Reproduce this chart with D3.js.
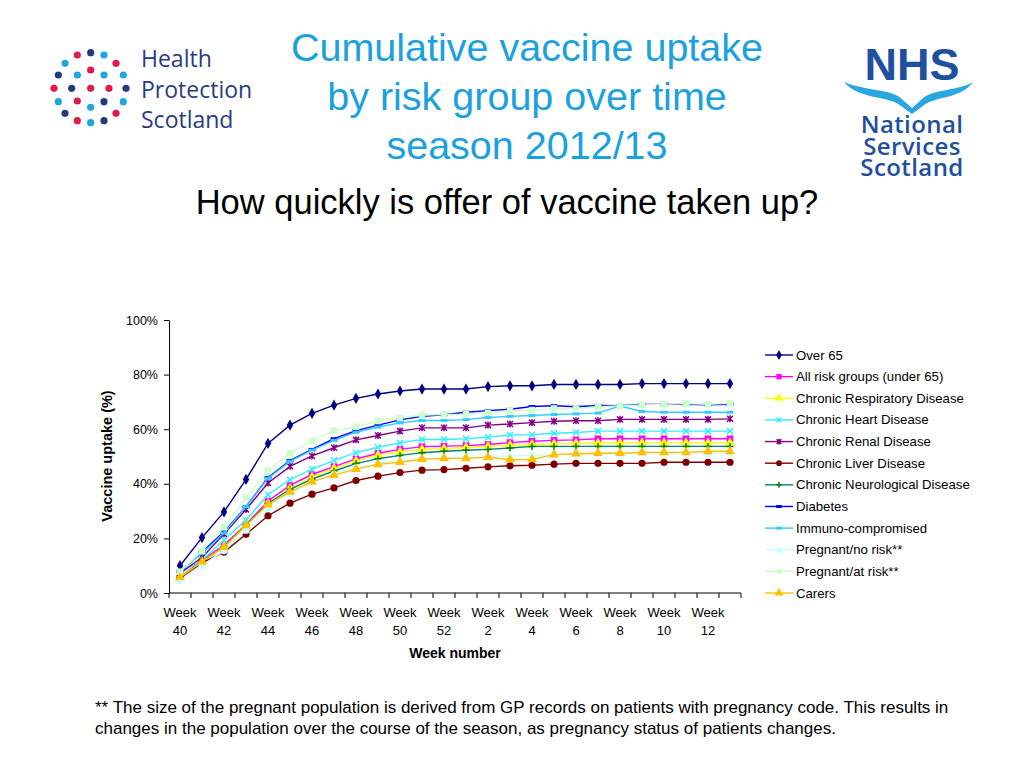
<!DOCTYPE html>
<html><head><meta charset="utf-8">
<script src="https://cdn.jsdelivr.net/npm/d3@7"></script>
<style>
html,body{margin:0;padding:0;background:#fff;}
svg{display:block;font-family:"Liberation Sans",Arial,sans-serif;}
</style></head>
<body>
<svg id="c" width="1024" height="768"></svg>
<script>
// ---- data ----
const weeks = [40,41,42,43,44,45,46,47,48,49,50,51,52,1,2,3,4,5,6,7,8,9,10,11,12,13];
const seriesNames = ["Over 65","All risk groups (under 65)","Chronic Respiratory Disease","Chronic Heart Disease","Chronic Renal Disease","Chronic Liver Disease","Chronic Neurological Disease","Diabetes","Immuno-compromised","Pregnant/no risk**","Pregnant/at risk**","Carers"];
const over65 = [10.0,20.3,29.7,41.6,54.8,61.5,65.8,68.8,71.3,72.9,74.0,74.7,74.7, 74.7,75.6,75.9,75.9,76.4,76.4,76.4,76.4,76.7,76.7,76.7,76.7,76.7];
const allRisk = [5.7,12.0,17.6,25.1,33.7,39.4,43.4,46.3,49.1,51.2,52.6,53.6,53.8, 54.0,54.4,55.1,55.6,55.9,56.1,56.5,56.5,56.5,56.5,56.5,56.5,56.5];
const respiratory = [5.4,11.4,17.0,24.5,32.8,38.3,42.4,45.6,48.4,50.5,51.7,52.6,52.9, 53.3,53.7,54.1,54.4,54.6,54.8,54.9,55.0,55.0,55.0,55.0,55.0,55.0];
const heart = [7.3,12.0,19.4,26.7,36.0,41.5,45.4,48.6,51.4,53.4,55.0,56.2,56.2, 56.5,57.1,57.9,58.0,58.5,58.8,59.3,59.3,59.3,59.3,59.3,59.3,59.3];
const renal = [7.3,13.0,21.6,30.6,40.3,46.4,50.2,53.2,56.1,57.7,59.3,60.5,60.5, 60.5,61.5,61.9,62.4,62.9,63.1,63.1,63.6,63.6,63.6,63.6,63.6,63.8];
const liver = [5.4,11.0,15.0,21.5,28.3,32.9,36.2,38.5,41.2,42.8,44.1,45.0,45.2, 45.7,46.2,46.6,46.8,47.2,47.5,47.5,47.5,47.5,47.9,47.9,47.9,47.9];
const neuro = [5.7,11.5,17.0,24.9,32.8,38.0,41.7,44.7,47.4,49.2,50.4,51.4,51.9, 52.3,52.6,53.1,53.7,53.7,53.7,53.7,53.7,53.7,53.7,53.7,53.7,53.7];
const diabetes = [7.8,15.0,22.4,31.6,42.3,48.5,52.6,56.5,59.5,61.5,63.4,64.7,65.3, 66.2,66.8,67.3,68.3,68.6,68.2,68.7,68.6,69.1,69.1,69.1,68.9,69.1];
const immuno = [8.1,14.5,22.0,31.6,42.0,48.2,52.3,55.9,58.9,60.8,62.3,63.2,63.2, 63.5,64.3,64.7,65.0,65.4,65.6,65.9,68.5,66.5,66.2,66.2,66.2,66.2];
const pregNoRisk = [4.5,10.0,15.5,23.0,31.0,36.5,40.5,43.5,45.8,47.5,48.5,49.2,49.5, 49.8,50.0,50.2,50.4,50.6,50.8,51.0,51.0,51.2,51.2,51.3,51.3,51.4];
const pregAtRisk = [7.8,15.5,24.1,34.9,44.7,51.2,55.7,59.5,60.9,63.0,64.2,65.2,65.4, 65.5,66.0,66.8,67.0,67.6,67.6,68.2,68.5,68.9,69.1,69.4,69.1,69.5];
const carers = [5.7,11.5,16.8,24.8,32.4,37.0,40.8,43.2,45.4,47.1,47.9,49.0,49.3, 49.3,49.7,48.8,48.9,50.7,51.0,51.2,51.2,51.5,51.5,51.5,51.9,51.9];
const yTicks = [0,0.2,0.4,0.6,0.8,1.0];

const seriesValues = [over65,allRisk,respiratory,heart,renal,liver,neuro,diabetes,immuno,pregNoRisk,pregAtRisk,carers];
const colors = ["#000080","#FF00FF","#FFFF00","#33EEFF","#800080","#800000","#008080","#0000FF","#33CCFF","#CCFFFF","#CCFFCC","#FFC000"];
const markers = ["diamond","square","triangle","x","star","circle","plus","dash","dash","circle","square","triangle"];
const markerColors = ["#000080","#FF00FF","#FFFF00","#33EEFF","#800080","#800000","#008000","#0000FF","#33CCFF","#CCFFFF","#CCFFCC","#FFC000"];

const svg = d3.select("#c");

// ---- titles ----
const titleColor = "#1BA1DE";
["Cumulative vaccine uptake","by risk group over time","season 2012/13"].forEach((t,i)=>{
  svg.append("text").attr("x",527).attr("y",61+i*49).attr("text-anchor","middle")
    .attr("font-size",39.5).attr("fill",titleColor).text(t);
});
svg.append("text").attr("x",507).attr("y",214).attr("text-anchor","middle")
  .attr("font-size",34.5).attr("fill","#000").text("How quickly is offer of vaccine taken up?");

// ---- HPS logo ----
const hps = svg.append("g");
const dotsHPS = [[112,75,"r"],[152,68,"n"],[192,75,"c"],[75,100,"c"],[228,100,"r"],[152,120,"r"],[112,135,"c"],[192,135,"c"],[55,135,"n"],[250,135,"c"],
 [42,175,"r"],[95,175,"n"],[152,175,"r"],[207,175,"r"],[258,175,"n"],[55,215,"c"],[112,213,"r"],[152,232,"c"],[192,215,"n"],[250,215,"c"],
 [75,250,"n"],[228,250,"r"],[112,272,"r"],[152,278,"c"],[192,272,"n"]];
const dotCol = {r:"#E3184B",n:"#243B7A",c:"#1EA7DB"};
dotsHPS.forEach(d=>hps.append("circle").attr("cx",40+d[0]/3).attr("cy",30+d[1]/3).attr("r",3.6).attr("fill",dotCol[d[2]]));
const hpsT = hps.append("text").attr("font-size",23).attr("fill","#2B3C80")
    .attr("font-family","'Open Sans','Noto Sans',sans-serif");
["Health","Protection","Scotland"].forEach((t,i)=>{
  hpsT.append("tspan").attr("x",141).attr("y",67+i*30.5).text(t);
});

// ---- NHS logo ----
const nhs = svg.append("g");
nhs.append("text").attr("x",912).attr("y",80).attr("text-anchor","middle").attr("font-size",45)
  .attr("font-weight","900").attr("fill","#1F4F9E").attr("font-family","'Liberation Sans',Arial,sans-serif")
  .text("NHS");
nhs.append("path").attr("d","M844,82 C868,92 893,88 904,101 L912,108 L920,101 C931,88 956,92 973,82 C960,100 936,95 923,106 L912,114 L901,106 C888,95 859,100 844,82 Z")
  .attr("fill","#2BA7DF");
const nhsT = nhs.append("text").attr("text-anchor","middle").attr("font-size",24)
    .attr("font-weight","600").attr("fill","#1F4F9E").attr("font-family","'Open Sans','Noto Sans',sans-serif")
    .attr("letter-spacing","0.4");
["National","Services","Scotland"].forEach((t,i)=>{
  nhsT.append("tspan").attr("x",912).attr("y",133+i*21.5).text(t);
});

// ---- chart ----
const x = d3.scaleBand().domain(weeks.map((w,i)=>i)).range([169,741]).paddingInner(0).paddingOuter(0);
const y = d3.scaleLinear().domain([0,1]).range([593,320]);
const cx = i => x(i)+x.bandwidth()/2;

// y axis
const yAxis = svg.append("g").attr("transform","translate(169,0)")
  .call(d3.axisLeft(y).tickValues(yTicks).tickFormat(d3.format(".0%")).tickSize(5).tickSizeOuter(0));
yAxis.select(".domain").attr("stroke","#000");
yAxis.selectAll("text").attr("font-size",12.5).attr("fill","#000").attr("font-family","'Liberation Sans',Arial,sans-serif").attr("dx","-3");

// x axis
const xAxisG = svg.append("g").attr("transform","translate(0,593)");
xAxisG.append("line").attr("x1",x.range()[0]).attr("x2",x.range()[1]).attr("stroke","#000");
const bounds = weeks.map((w,i)=>x(i)).concat([x.range()[1]]);
xAxisG.selectAll("line.tick").data(bounds).enter().append("line").attr("class","tick")
  .attr("x1",d=>d).attr("x2",d=>d).attr("y1",0).attr("y2",5).attr("stroke","#000");
weeks.forEach((w,i)=>{
  if(i%2===0 && i<25){
    const t = xAxisG.append("text").attr("x",cx(i)).attr("text-anchor","middle").attr("font-size",13).attr("fill","#000");
    t.append("tspan").attr("x",cx(i)).attr("y",24).text("Week");
    t.append("tspan").attr("x",cx(i)).attr("y",42).text(String(w));
  }
});
svg.append("text").attr("x",455).attr("y",658).attr("text-anchor","middle").attr("font-size",14).attr("font-weight","bold").text("Week number");
svg.append("text").attr("transform","translate(112,456) rotate(-90)").attr("text-anchor","middle").attr("font-size",14.5).attr("font-weight","bold").text("Vaccine uptake (%)");

// markers
function drawMarker(g, type, px, py, col, scale){
  const s = scale||1;
  if(type==="diamond"){
    g.append("path").attr("d",d3.symbol(d3.symbolDiamond, 36*s)()).attr("transform",`translate(${px},${py})`).attr("fill",col);
  } else if(type==="square"){
    g.append("rect").attr("x",px-3.3*s).attr("y",py-3.3*s).attr("width",6.6*s).attr("height",6.6*s).attr("fill",col);
  } else if(type==="triangle"){
    g.append("path").attr("d",d3.symbol(d3.symbolTriangle, 42*s)()).attr("transform",`translate(${px},${py})`).attr("fill",col);
  } else if(type==="circle"){
    g.append("circle").attr("cx",px).attr("cy",py).attr("r",3.6*s).attr("fill",col);
  } else if(type==="x"){
    const r=3*s;
    g.append("path").attr("d",`M${px-r},${py-r}L${px+r},${py+r}M${px-r},${py+r}L${px+r},${py-r}`).attr("stroke",col).attr("stroke-width",1.5);
  } else if(type==="star"){
    const r=3*s;
    g.append("path").attr("d",`M${px-r},${py-r}L${px+r},${py+r}M${px-r},${py+r}L${px+r},${py-r}M${px},${py-r-0.5}L${px},${py+r+0.5}`).attr("stroke",col).attr("stroke-width",1.5);
  } else if(type==="plus"){
    const r=3.5*s;
    g.append("path").attr("d",`M${px-r},${py}L${px+r},${py}M${px},${py-r}L${px},${py+r}`).attr("stroke",col).attr("stroke-width",1.5);
  } else if(type==="dash"){
    g.append("rect").attr("x",px-3.5*s).attr("y",py-1.5).attr("width",7*s).attr("height",3).attr("fill",col);
  }
}

const line = d3.line().x((d,i)=>cx(i)).y(d=>y(d/100));
const plot = svg.append("g");
seriesValues.forEach((vals,k)=>{
  const g = plot.append("g");
  g.append("path").datum(vals).attr("d",line).attr("fill","none").attr("stroke",colors[k]).attr("stroke-width",1.4);
  vals.forEach((v,i)=>drawMarker(g, markers[k], cx(i), y(v/100), markerColors[k]));
});

// legend
const leg = svg.append("g");
seriesNames.forEach((n,k)=>{
  const yy = 355 + k*21.64;
  leg.append("line").attr("x1",765).attr("x2",793).attr("y1",yy).attr("y2",yy).attr("stroke",colors[k]).attr("stroke-width",1.4);
  drawMarker(leg, markers[k], 779, yy, markerColors[k], 0.8);
  leg.append("text").attr("x",796).attr("y",yy+4.5).attr("font-size",13.2).attr("fill","#000").text(n);
});

// footnote
["** The size of the pregnant population is derived from GP records on patients with pregnancy code. This results in",
 "changes in the population over the course of the season, as pregnancy status of patients changes."].forEach((t,i)=>{
  svg.append("text").attr("x",95).attr("y",713+i*21).attr("font-size",17).attr("fill","#000").text(t);
});
</script>
</body></html>
